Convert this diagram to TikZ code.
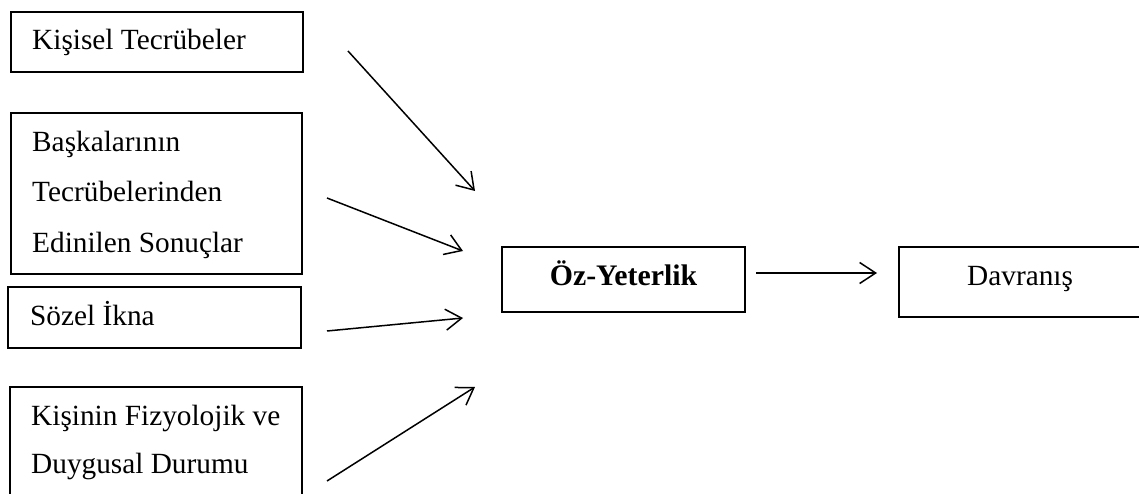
\documentclass[tikz,border=0pt]{standalone}
\usepackage{fontspec}
\setmainfont{Liberation Serif}
\usetikzlibrary{arrows.meta}
\tikzset{
  box/.style={draw, line width=2.1pt, rectangle, inner sep=0pt},
  lbl/.style={anchor=base west, inner sep=0pt, font=\fontsize{29.3}{50}\selectfont},
  clbl/.style={anchor=base, inner sep=0pt, font=\fontsize{29.8}{50}\selectfont\bfseries},
  link/.style={line width=1.5pt, -{Straight Barb[length=16pt,width=21pt,line width=1.5pt]}}
}
\begin{document}
\begin{tikzpicture}[x=1pt,y=-1pt]
\useasboundingbox (0,0) rectangle (1139,494);
\clip (0,0) rectangle (1139,494);

% source boxes
\node[box, minimum width=292pt, minimum height=60pt]  (kt) at (157,42) {};
\node[box, minimum width=291pt, minimum height=161pt] (bt) at (156.5,193.5) {};
\node[box, minimum width=293pt, minimum height=61pt]  (si) at (154.5,317.5) {};
\node[box, minimum width=292pt, minimum height=130pt] (fd) at (156,452) {};

\node[lbl] (ktA) at (32,50)  {Kişisel Tecrübeler};
\node[lbl] (btA) at (32,152) {Başkalarının};
\node[lbl] (btB) at (32,202) {Tecrübelerinden};
\node[lbl] (btC) at (32,252) {Edinilen Sonuçlar};
\node[lbl] (siA) at (30,325) {Sözel İkna};
\node[lbl] (fdA) at (31,425) {Kişinin Fizyolojik ve};
\node[lbl] (fdB) at (31,473) {Duygusal Durumu};

% central and outcome boxes
\node[box, minimum width=243pt, minimum height=65pt] (oy) at (623.5,279.5) {};
\node[box, minimum width=262pt, minimum height=70pt] (dv) at (1030,282) {};
\node[clbl] (oyA) at (623.5,285) {Öz-Yeterlik};
\node[lbl]  (dvA) at (967,285)   {Davranış};

% arrow end points
\coordinate (a1s) at (348,51);  \coordinate (a1e) at (475,191);
\coordinate (a2s) at (327,198); \coordinate (a2e) at (463,251);
\coordinate (a3s) at (327,331); \coordinate (a3e) at (463,318);
\coordinate (a4s) at (327,481); \coordinate (a4e) at (475,387);
\coordinate (a5s) at (756,273); \coordinate (a5e) at (877,273);

\draw[link] (a1s) -- (a1e);
\draw[link] (a2s) -- (a2e);
\draw[link] (a3s) -- (a3e);
\draw[link] (a4s) -- (a4e);
\draw[link] (a5s) -- (a5e);
\end{tikzpicture}
\end{document}
